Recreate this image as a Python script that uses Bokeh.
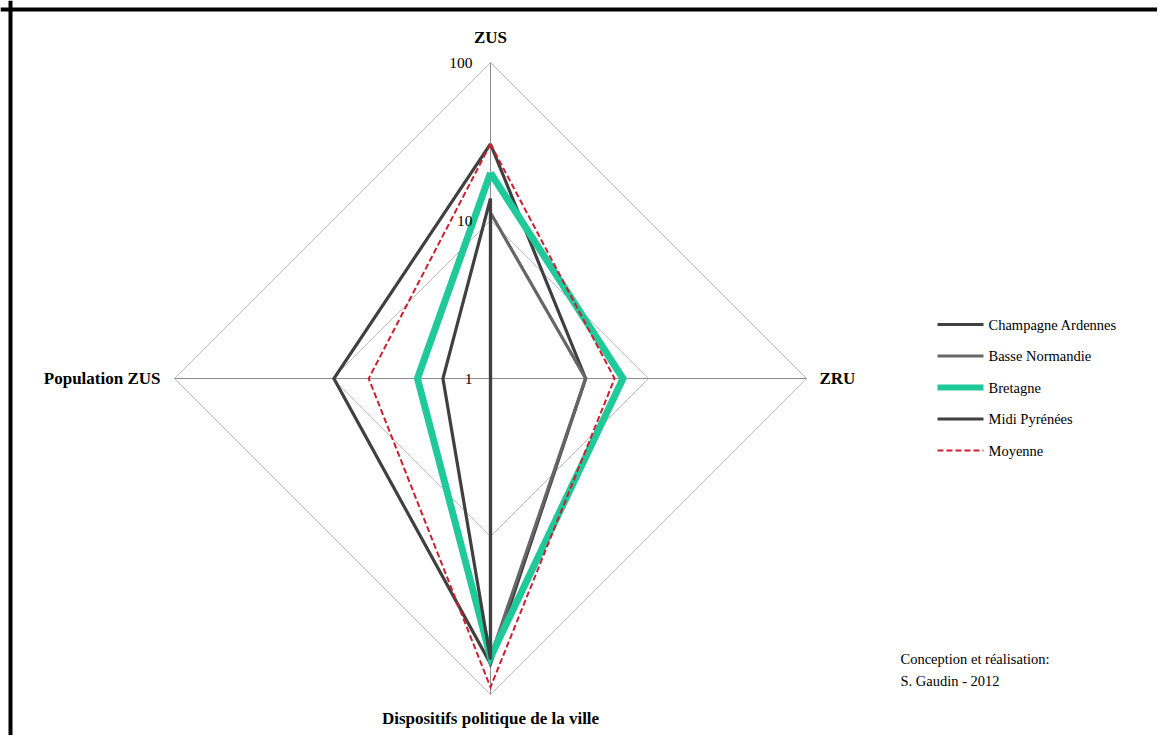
import numpy as np
from bokeh.plotting import figure
from bokeh.models import Range1d, Label, Span
from bokeh.embed import file_html
from bokeh.resources import INLINE

# ---- data ----
axes_labels = ["ZUS", "ZRU", "Dispositifs politique de la ville", "Population ZUS"]
series_names = ["Champagne Ardennes", "Basse Normandie", "Bretagne", "Midi Pyrénées", "Moyenne"]
champagne = [30.5, 4.0, 64.0, 9.8]
basse_normandie = [11.2, 4.0, 58.0, 1.0]
bretagne = [20.0, 6.9, 58.0, 2.9]
midi_pyrenees = [13.8, 1.0, 60.0, 2.0]
moyenne = [30.5, 6.1, 90.0, 5.9]
tick_values = [1, 10, 100]
tick_labels = ["1", "10", "100"]
credit = ["Conception et réalisation:", "S. Gaudin - 2012"]

series_values = [champagne, basse_normandie, bretagne, midi_pyrenees, moyenne]
colors = ["#404040", "#666666", "#1fc99a", "#404040", "#cc1f2f"]
widths = [3.2, 3.2, 7, 3.2, 2]
dashes = ["solid", "solid", "solid", "solid", "6 3"]

# ---- geometry (screenshot pixel coordinates) ----
CX, CY = 490, 378
DEC = 158.0  # px per decade
dirs = [(0, -1), (1, 0), (0, 1), (-1, 0)]
FONT = "Liberation Serif"

p = figure(width=1157, height=735, x_range=Range1d(0, 1157), y_range=Range1d(735, 0),
           output_backend="svg", toolbar_location=None, min_border=0)
p.axis.visible = False
p.grid.visible = False
p.outline_line_color = None
p.background_fill_color = "white"

def radius(v):
    return DEC * max(np.log10(v), 0.0)

# grid diamonds
for tv in tick_values[1:]:
    r = radius(tv)
    xs = [CX + dx * r for dx, dy in dirs] + [CX + dirs[0][0] * r]
    ys = [CY + dy * r for dx, dy in dirs] + [CY + dirs[0][1] * r]
    p.line(xs, ys, line_color="#c0c0c0", line_width=1)

# spokes
rmax = radius(tick_values[-1])
for dx, dy in dirs:
    p.line([CX, CX + dx * rmax], [CY, CY + dy * rmax], line_color="#8c8c8c", line_width=1)

# series
for name, vals, c, w, d in zip(series_names, series_values, colors, widths, dashes):
    xs = [CX + dx * radius(v) for (dx, dy), v in zip(dirs, vals)]
    ys = [CY + dy * radius(v) for (dx, dy), v in zip(dirs, vals)]
    xs.append(xs[0]); ys.append(ys[0])
    p.line(xs, ys, line_color=c, line_width=w, line_dash=d, line_join="miter")

# tick labels
for tv, tl in zip(tick_values, tick_labels):
    r = radius(tv)
    p.add_layout(Label(x=CX - 18, y=CY - r, text=tl, text_align="right", text_baseline="middle",
                       text_font=FONT, text_font_size="15.5px", text_color="#000000"))

# category labels
LBL = dict(text_font=FONT, text_font_size="17px", text_font_style="bold",
           text_baseline="middle", text_color="#000000")
p.add_layout(Label(x=CX, y=CY - rmax - 25, text=axes_labels[0], text_align="center", **LBL))
p.add_layout(Label(x=CX + rmax + 13, y=CY, text=axes_labels[1], text_align="left", **LBL))
p.add_layout(Label(x=CX, y=CY + rmax + 24, text=axes_labels[2], text_align="center", **LBL))
p.add_layout(Label(x=CX - rmax - 14, y=CY, text=axes_labels[3], text_align="right", **LBL))

# legend (manual)
LX0, LX1, LT, LY0, LDY = 937, 983, 988, 324, 31.5
for i, (name, c, w, d) in enumerate(zip(series_names, colors, widths, dashes)):
    y = LY0 + i * LDY
    lw = w if w < 5 else 6
    p.line([LX0, LX1], [y, y], line_color=c, line_width=lw, line_dash=d)
    p.add_layout(Label(x=LT, y=y, text=name, text_align="left", text_baseline="middle",
                       text_font=FONT, text_font_size="14.5px", text_color="#000000"))

# credit
for i, t in enumerate(credit):
    p.add_layout(Label(x=900, y=658 + i * 22, text=t, text_align="left", text_baseline="middle",
                       text_font=FONT, text_font_size="14.5px", text_color="#000000"))

# frame (top and left only, as in the reference crop)
p.add_layout(Span(location=9, dimension="width", line_color="black", line_width=4))
p.add_layout(Span(location=10, dimension="height", line_color="black", line_width=4))

open("out.html", "w").write(file_html(p, INLINE))
